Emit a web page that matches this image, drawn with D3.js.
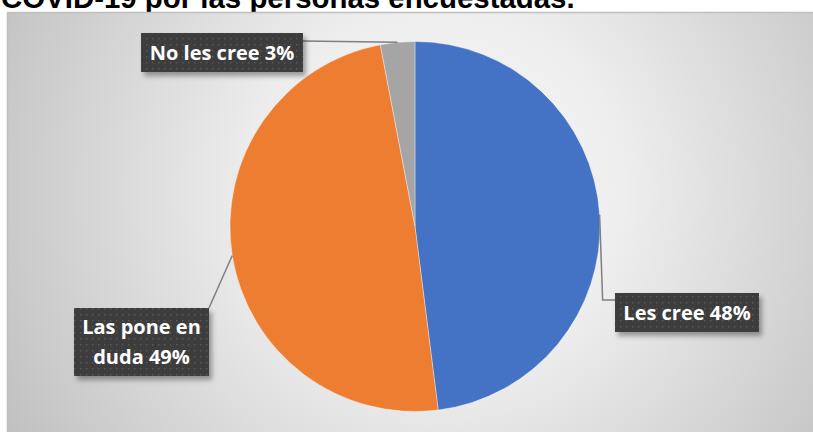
<!DOCTYPE html>
<html>
<head>
<meta charset="utf-8">
<script src="https://cdn.jsdelivr.net/npm/d3@7"></script>
<style>
  html, body { margin: 0; padding: 0; background: #ffffff; }
  svg { display: block; }
</style>
</head>
<body>
<svg id="chart" width="813" height="432"></svg>
<script>
// Survey answers and their shares (percent)
const categories = ["Les cree", "Las pone en duda", "No les cree"];
const values = [48, 49, 3];
const labelLines = [["Les cree 48%"], ["Las pone en", "duda 49%"], ["No les cree 3%"]];
const colors = ["#4472C4", "#ED7D31", "#A5A5A5"];
const titleText = "COVID-19 por las personas encuestadas.";

const W = 813, H = 432;
const svg = d3.select("#chart");
const defs = svg.append("defs");

// Radial gray background of the chart area
const bg = defs.append("radialGradient")
  .attr("id", "bgGrad")
  .attr("gradientUnits", "userSpaceOnUse")
  .attr("cx", 440).attr("cy", 190).attr("r", 520);
bg.append("stop").attr("offset", "0%").attr("stop-color", "#f7f7f7");
bg.append("stop").attr("offset", "35%").attr("stop-color", "#eeeeee");
bg.append("stop").attr("offset", "100%").attr("stop-color", "#bdbdbd");

// Dotted dark fill for the data labels
const pat = defs.append("pattern")
  .attr("id", "dots")
  .attr("patternUnits", "userSpaceOnUse")
  .attr("width", 6).attr("height", 6);
pat.append("rect").attr("width", 6).attr("height", 6).attr("fill", "#3e3e3e");
pat.append("rect").attr("x", 2).attr("y", 2).attr("width", 1.4).attr("height", 1.4).attr("fill", "#5a5a5a");

const shadow = defs.append("filter").attr("id", "shadow")
  .attr("x", "-20%").attr("y", "-20%").attr("width", "150%").attr("height", "170%");
shadow.append("feDropShadow")
  .attr("dx", 3).attr("dy", 4).attr("stdDeviation", 2.5)
  .attr("flood-color", "#000").attr("flood-opacity", 0.35);

// Title (partly above the visible area)
const title = svg.append("text")
  .attr("x", 1).attr("y", 8)
  .attr("font-family", "Liberation Sans, Arial, sans-serif")
  .attr("font-weight", "bold")
  .attr("font-size", 24)
  .attr("fill", "#000")
  .text(titleText);
const tl = title.node().getComputedTextLength();
title.attr("font-size", 24 * 574 / tl);

// Chart area
svg.append("rect")
  .attr("x", 7.5).attr("y", 12.5)
  .attr("width", W + 20).attr("height", H + 20)
  .attr("fill", "url(#bgGrad)")
  .attr("stroke", "#bfbfbf").attr("stroke-width", 1.5);

// Pie
const cx = 415, cy = 226.5, R = 185;
const pie = d3.pie().sort(null).value(d => d.v)
  .startAngle(0).endAngle(2 * Math.PI);
const data = pie(categories.map((c, i) => ({ c, v: values[i], i })));
const arc = d3.arc().innerRadius(0).outerRadius(R);

const g = svg.append("g").attr("transform", `translate(${cx},${cy})`);
g.selectAll("path.slice").data(data).enter().append("path")
  .attr("class", "slice")
  .attr("d", arc)
  .attr("fill", d => colors[d.data.i])
  .attr("stroke", "#ffffff").attr("stroke-width", 0.6).attr("stroke-opacity", 0.6);

// Point on the rim at the middle of each slice
function rimPoint(d) {
  const a = (d.startAngle + d.endAngle) / 2;
  return [cx + R * Math.sin(a), cy - R * Math.cos(a)];
}

// Label boxes: [x, y, width, height]
const boxes = [
  [615, 293, 144, 39],
  [74, 308, 135, 68],
  [141, 33, 162, 39]
];

// Leader lines
const leaders = data.map((d, k) => {
  const p = rimPoint(d);
  const b = boxes[k];
  if (k === 0) return [p, [p[0] + 3, b[1] + 7], [b[0], b[1] + 7]];
  if (k === 1) return [p, [b[0] + b[2], b[1]]];
  return [p, [b[0] + b[2], b[1] + 8]];
});
svg.selectAll("path.leader").data(leaders).enter().append("path")
  .attr("class", "leader")
  .attr("d", d3.line())
  .attr("fill", "none")
  .attr("stroke", "#7f7f7f").attr("stroke-width", 1.5);

// Label boxes and text
const lg = svg.selectAll("g.lab").data(data).enter().append("g").attr("class", "lab");
lg.append("rect")
  .attr("x", (d, k) => boxes[k][0]).attr("y", (d, k) => boxes[k][1])
  .attr("width", (d, k) => boxes[k][2]).attr("height", (d, k) => boxes[k][3])
  .attr("fill", "url(#dots)")
  .attr("filter", "url(#shadow)");
lg.each(function (d, k) {
  const b = boxes[k];
  const lines = labelLines[d.data.i];
  const t = d3.select(this).append("text")
    .attr("text-anchor", "middle")
    .attr("font-family", "Open Sans, sans-serif")
    .attr("font-weight", "bold")
    .attr("font-size", 20)
    .attr("fill", "#ffffff");
  const lh = 30;
  const y0 = b[1] + b[3] / 2 - (lines.length - 1) * lh / 2 + 7;
  lines.forEach((ln, j) => {
    t.append("tspan").attr("x", b[0] + b[2] / 2).attr("y", y0 + j * lh).text(ln);
  });
});
</script>
</body>
</html>
